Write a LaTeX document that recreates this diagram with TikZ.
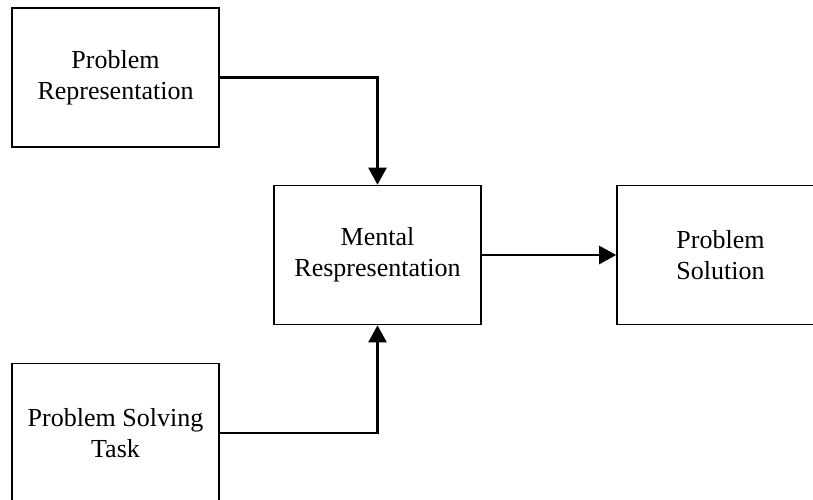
\documentclass[tikz,border=0pt]{standalone}
\usepackage{fontspec}
\setmainfont{Liberation Serif}
\usetikzlibrary{arrows.meta}
\begin{document}
\begin{tikzpicture}[x=1pt,y=-1pt,
  box/.style={draw, line width=1.6pt, minimum width=207pt, minimum height=139pt,
    align=center, inner sep=0pt, font=\fontsize{26}{31}\selectfont},
  link/.style={line width=2.4pt, -{Triangle[length=17pt,width=18pt]}}]
\useasboundingbox (0,0) rectangle (813,500);
\clip (0,0) rectangle (813,500);
% the four stages
\node[box] (rep)  at (115.5,77.5) {Problem\\Representation};
\node[box] (task) at (115.5,433)  {Problem Solving\\Task};
\node[box] (ment) at (377.5,255)  {Mental\\Respresentation};
\node[box] (sol)  at (720.5,255)  {Problem\\Solution};
% connectors
\draw[link] (rep.east) -| (ment.north);
\draw[link] (task.east) -| (ment.south);
\draw[link] (ment.east) -- (sol.west);
\end{tikzpicture}
\end{document}
